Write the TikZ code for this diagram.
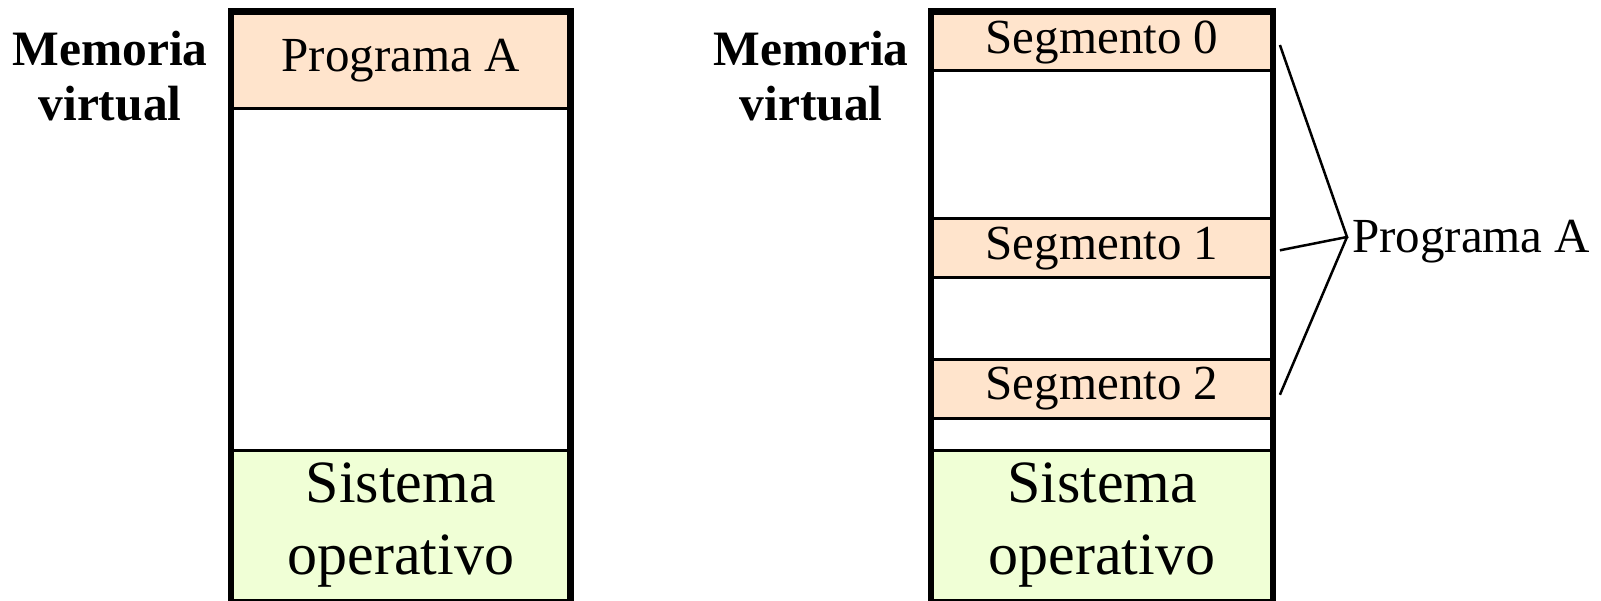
\documentclass[tikz,border=0pt]{standalone}
\usepackage{fontspec}
\setmainfont{Liberation Serif}
\usetikzlibrary{positioning}
\definecolor{segfill}{RGB}{255,228,204}
\definecolor{sofill}{RGB}{240,255,214}
\tikzset{
  cell/.style={draw, line width=3pt, inner sep=0pt, font=\fontsize{49}{59}\selectfont},
  leftcell/.style={cell, minimum width=336.5pt},
  rightcell/.style={cell, minimum width=338.8pt},
  segcell/.style={fill=segfill},
  socell/.style={fill=sofill, minimum height=150pt, align=center, font=\fontsize{60}{72}\selectfont},
  memlabel/.style={align=center, inner sep=0pt, font=\fontsize{49.5}{55}\selectfont\bfseries},
  frame/.style={line width=6.5pt},
}
\begin{document}
\begin{tikzpicture}[x=1pt,y=-1pt]
\useasboundingbox (0,0) rectangle (1601,601);
\clip (0,0) rectangle (1601,601);
\node[memlabel] (mvL) at (110,76) {Memoria\\virtual};
\node[leftcell,segcell,minimum height=96pt] (progA) at (400.75,61) {Programa A};
\node[leftcell,socell] (soL) at (400.75,525) {Sistema\\operativo};
\draw[frame] ([yshift=-10pt]soL.south west) |- (progA.north) -| ([yshift=-10pt]soL.south east);
\node[memlabel] (mvR) at (811,76) {Memoria\\virtual};
\node[rightcell,segcell,minimum height=58pt] (seg0) at (1102,42) {Segmento 0};
\node[rightcell,segcell,minimum height=59.3pt] (seg1) at (1102,248.3) {Segmento 1};
\node[rightcell,segcell,minimum height=59pt] (seg2) at (1102,388.8) {Segmento 2};
\node[rightcell,socell] (soR) at (1102,525) {Sistema\\operativo};
\draw[frame] ([yshift=-10pt]soR.south west) |- (seg0.north) -| ([yshift=-10pt]soR.south east);
\coordinate (brace) at (1347,237);
\node[anchor=west, inner sep=0pt, font=\fontsize{49}{59}\selectfont] (progB) at (1352,242) {Programa A};
\draw[line width=2.5pt] ([xshift=7pt,yshift=-3pt]seg0.east) -- (brace) -- ([xshift=7pt,yshift=-2pt]seg1.east);
\draw[line width=2.5pt] ([xshift=7pt,yshift=-6pt]seg2.east) -- (brace);
\end{tikzpicture}
\end{document}
